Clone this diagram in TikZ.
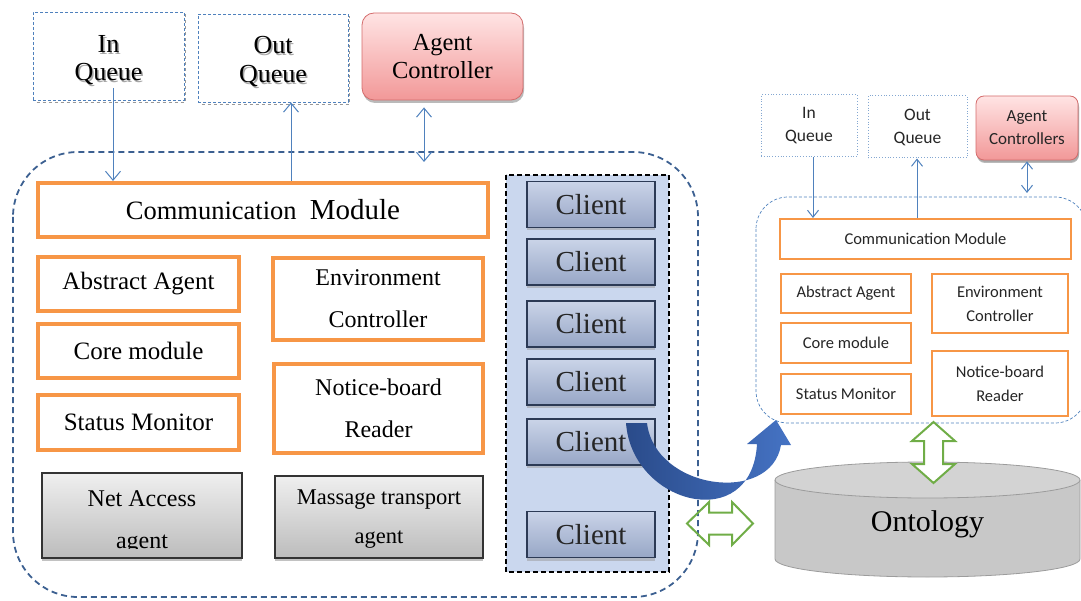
\documentclass[tikz,border=0pt]{standalone}
\usepackage{fontspec}
\setmainfont{Liberation Serif}
\newfontfamily\calfont{Carlito}
\usetikzlibrary{arrows.meta,shadows,calc}

\definecolor{orangeB}{HTML}{F79646}
\definecolor{linkblue}{HTML}{4F81BD}
\definecolor{frameblue}{HTML}{3C6091}
\definecolor{acTop}{HTML}{FFE4E4}
\definecolor{acBot}{HTML}{F29898}
\definecolor{acEdge}{HTML}{D46C6C}
\definecolor{clTop}{HTML}{CAD4E8}
\definecolor{clBot}{HTML}{97A6C6}
\definecolor{clEdge}{HTML}{2C3A55}
\definecolor{panelfill}{HTML}{CAD7EE}
\definecolor{grTop}{HTML}{EFEFEF}
\definecolor{grBot}{HTML}{BCBCBC}
\definecolor{okgreen}{HTML}{70AD47}
\definecolor{bandDark}{HTML}{2A4B8A}
\definecolor{bandLight}{HTML}{4573C4}
\definecolor{cylFill}{HTML}{C8C8C8}
\definecolor{cylTop}{HTML}{D3D3D3}
\definecolor{cylEdge}{HTML}{9C9C9C}

\begin{document}
\begin{tikzpicture}[x=1pt,y=-1pt,
  lfont/.style={font=\fontsize{24}{42}\selectfont},
  obox/.style={draw=orangeB, line width=4pt, fill=white, inner sep=0pt,
    align=center, lfont},
  sbox/.style={draw=orangeB, line width=2pt, fill=white, inner sep=0pt,
    align=center, font=\calfont\fontsize{16.5}{24}\selectfont, text=black!85},
  queuebox/.style={draw=linkblue, densely dashed, line width=0.8pt, fill=white,
    inner sep=0pt, align=center},
  ctrlbox/.style={rounded corners=12pt, top color=acTop, bottom color=acBot,
    draw=acEdge, line width=0.8pt, inner sep=0pt, align=center,
    drop shadow={shadow xshift=1pt, shadow yshift=-3pt, fill=black!45, opacity=.6}},
  graybox/.style={top color=grTop, bottom color=grBot, draw=black!80,
    line width=1.2pt, inner sep=0pt,
    drop shadow={shadow xshift=0pt, shadow yshift=-3pt, fill=black!40, opacity=.6}},
  clientbox/.style={top color=clTop, bottom color=clBot, draw=clEdge,
    line width=1.2pt, inner sep=0pt, minimum width=128pt, minimum height=46pt,
    font=\fontsize{29}{30}\selectfont, text=black!85,
    drop shadow={shadow xshift=0pt, shadow yshift=-3pt, fill=black!40, opacity=.5}},
  link/.style={draw=linkblue, line width=1pt},
  tip/.style={-{Straight Barb[length=9pt,width=15pt]}},
  tips/.style={{Straight Barb[length=9pt,width=15pt]}-{Straight Barb[length=9pt,width=15pt]}},
  stip/.style={-{Straight Barb[length=7pt,width=11pt]}},
  stips/.style={{Straight Barb[length=7pt,width=11pt]}-{Straight Barb[length=7pt,width=11pt]}},
  hollow/.style={draw=okgreen, line width=2pt, line join=miter},
]
\useasboundingbox (0,0) rectangle (1081,601);

% ---------- agent platform (left) ----------
\draw[frameblue, line width=1.8pt, dash pattern=on 6pt off 4pt, rounded corners=65pt]
  (13,152) rectangle (698,597);

% client pool
\draw[black, fill=panelfill, line width=2pt, dash pattern=on 5pt off 3pt]
  (506,175) rectangle (669,572);
\node[clientbox] (c1) at (591,204.5) {Client};
\node[clientbox] (c2) at (591,262) {Client};
\node[clientbox] (c3) at (591,324) {Client};
\node[clientbox] (c4) at (591,382) {Client};
\node[clientbox] (c5) at (591,442) {Client};
\node[clientbox] (c6) at (591,534.5) {Client};

% queues and controller
\draw[black!40, line width=0.6pt, dashed] (34.5,14) rectangle (185.5,102);
\node[queuebox, minimum width=151pt, minimum height=88pt] (inq) at (108.5,56) {};
\node[align=center, text=black!35, font=\fontsize{26}{28}\selectfont] (inqs) at (110,62) {In\\Queue};
\node[align=center, font=\fontsize{26}{28}\selectfont] (inqt) at (108.5,60) {In\\Queue};

\draw[black!40, line width=0.6pt, dashed] (199.5,16) rectangle (349.5,104);
\node[queuebox, minimum width=150pt, minimum height=88pt] (outq) at (273,58) {};
\node[align=center, text=black!35, font=\fontsize{26}{29}\selectfont] (outqs) at (274.5,64) {Out\\Queue};
\node[align=center, font=\fontsize{26}{29}\selectfont] (outqt) at (273,62) {Out\\Queue};

\node[ctrlbox, minimum width=161pt, minimum height=87pt,
  font=\fontsize{24.5}{28}\selectfont] (actl) at (442.5,56.5) {Agent\\Controller};

% modules
\node[obox, minimum width=450pt, minimum height=54pt] (cm) at (263,210)
  {\fontsize{26.5}{30}\selectfont Communication\ \ {\fontsize{29}{30}\selectfont Module}};
\node[obox, minimum width=201pt, minimum height=54pt, font=\fontsize{25}{30}\selectfont] (aa) at (138.5,284) {Abstract Agent};
\node[obox, minimum width=201pt, minimum height=54pt, font=\fontsize{25}{30}\selectfont] (core) at (138.5,351) {Core module};
\node[obox, minimum width=201pt, minimum height=55pt, font=\fontsize{25}{30}\selectfont] (stat) at (138.5,422.5) {Status Monitor};
\node[obox, minimum width=210pt, minimum height=82pt] (env) at (378,299) {Environment\\Controller};
\node[obox, minimum width=209pt, minimum height=89pt] (nbr) at (378.5,408.5) {Notice-board\\Reader};

\node[graybox, minimum width=200pt, minimum height=85pt] (na) at (142,515.5) {};
\begin{scope}
  \clip (42,470) rectangle (242,548);
  \node[lfont, align=center] (natext) at (142,522) {Net Access\\agent};
\end{scope}
\node[graybox, minimum width=208pt, minimum height=82pt] (mt) at (379,517) {};
\node[align=center, font=\fontsize{22.5}{39}\selectfont] (mttext) at (379,519)
  {Massage transport\\agent};

% links of the platform
\coordinate (inx) at (113,88);
\coordinate (outx) at (291,0);
\coordinate (acx) at (424,0);
\draw[link, tip] (inx) -- (inx |- cm.north);
\draw[link, tip] (outx |- cm.north) -- (outx |- outq.south);
\draw[link, tips] ($(acx |- actl.south)+(0,7)$) -- (424,162);

% ---------- agent (right) ----------
\draw[linkblue, line width=0.7pt, dash pattern=on 3pt off 2pt, rounded corners=32pt]
  (756,197) rectangle (1087,423);

\node[queuebox, draw=linkblue!70, dotted, line width=1pt, minimum width=96pt, minimum height=62pt,
  font=\calfont\fontsize{17.5}{23}\selectfont, text=black!85] (inq2) at (809,126) {In\\Queue};
\node[queuebox, draw=linkblue!70, dotted, line width=1pt, minimum width=99pt, minimum height=62pt,
  font=\calfont\fontsize{17.5}{23}\selectfont, text=black!85] (outq2) at (917.5,127) {Out\\Queue};
\node[ctrlbox, rounded corners=8pt, minimum width=102pt, minimum height=64pt,
  font=\calfont\fontsize{17}{23}\selectfont, text=black!85,
  drop shadow={shadow xshift=1pt, shadow yshift=-2pt, fill=black!40, opacity=.5}]
  (actl2) at (1027,128) {Agent\\Controllers};

\node[sbox, minimum width=291pt, minimum height=40pt] (cm2) at (925.5,239) {Communication Module};
\node[sbox, minimum width=130pt, minimum height=39pt] (aa2) at (846,293.5) {Abstract Agent};
\node[sbox, minimum width=130pt, minimum height=40pt] (core2) at (846,343) {Core module};
\node[sbox, minimum width=130pt, minimum height=40pt] (stat2) at (846,394) {Status Monitor};
\node[sbox, minimum width=136pt, minimum height=59pt] (env2) at (1000,303.5) {Environment\\Controller};
\node[sbox, minimum width=136pt, minimum height=65pt] (nbr2) at (1000,383.5) {Notice-board\\Reader};

\coordinate (inx2) at (813,0);
\coordinate (outx2) at (917,0);
\coordinate (acx2) at (1027,0);
\draw[link, stip] (inx2 |- inq2.south) -- (inx2 |- cm2.north);
\draw[link, stip] (outx2 |- cm2.north) -- (outx2 |- outq2.south);
\draw[link, stips] ($(acx2 |- actl2.south)+(0,1)$) -- (1027,193);

% ---------- ontology store ----------
\path[fill=cylFill, draw=cylEdge, line width=0.8pt]
  (775,480) -- (775,559) arc[start angle=180, end angle=360, x radius=152.5pt, y radius=18pt]
  -- (1080,480);
\draw[fill=cylTop, draw=cylEdge, line width=0.8pt] (927.5,480) ellipse [x radius=152.5pt, y radius=18pt];
\node[font=\fontsize{30}{32}\selectfont] (onto) at (927.5,524) {Ontology};

% ---------- exchanges ----------
\shade[left color=bandDark, right color=bandLight]
  (626,423) .. controls (632,505) and (752,535) .. (757,444)
  -- (747,444) -- (776,420) -- (791,445) -- (781,445)
  .. controls (771,505) and (655,490) .. (647,423) -- cycle;

\draw[hollow]
  (687,523.5) -- (709,502) -- (709,512.5) -- (732,512.5) -- (732,502) -- (753,523.5)
  -- (732,545) -- (732,534.5) -- (709,534.5) -- (709,545) -- cycle;
\draw[hollow, fill=white]
  (933.5,422) -- (955,441) -- (943,441) -- (943,464) -- (955,464) -- (933.5,483)
  -- (912,464) -- (924,464) -- (924,441) -- (912,441) -- cycle;
\end{tikzpicture}
\end{document}
